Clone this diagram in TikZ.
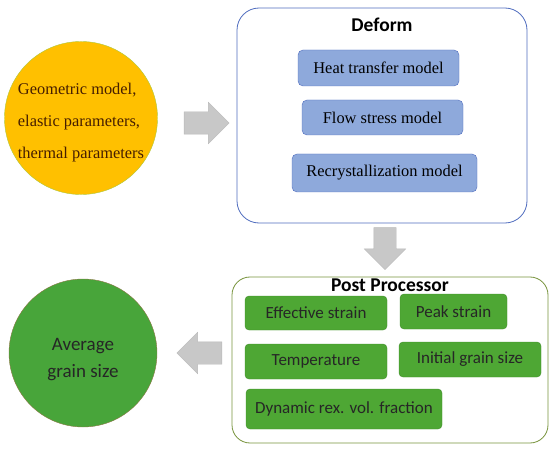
\documentclass[tikz,border=0pt]{standalone}
\usepackage{fontspec}
\setmainfont{Liberation Serif}
\newfontfamily\calibri{Carlito}
\usetikzlibrary{positioning,shapes.arrows}
\definecolor{deformblue}{RGB}{79,108,190}
\definecolor{modelfill}{RGB}{142,169,219}
\definecolor{postolive}{RGB}{119,147,60}
\definecolor{resfill}{RGB}{78,167,52}
\definecolor{resdraw}{RGB}{66,140,44}
\definecolor{inputfill}{RGB}{255,192,0}
\definecolor{inputdraw}{RGB}{172,200,60}
\definecolor{inputtext}{RGB}{70,30,0}
\definecolor{outfill}{RGB}{72,165,58}
\definecolor{outdraw}{RGB}{140,120,70}
\definecolor{arrowgray}{RGB}{200,200,200}
\begin{document}
\begin{tikzpicture}[x=1pt, y=-1pt,
  model/.style={draw=deformblue, fill=modelfill, rounded corners=5pt, inner sep=0pt, font=\fontsize{16.4}{19}\selectfont},
  result/.style={draw=resdraw, fill=resfill, rounded corners=4pt, inner sep=0pt, text=black!85, font=\calibri\fontsize{17}{20}\selectfont},
  title/.style={font=\calibri\bfseries\fontsize{19.5}{22}\selectfont},
  blockarrow/.style={single arrow, draw=gray!55, fill=arrowgray, inner xsep=0pt, inner ysep=11pt, minimum height=45pt, single arrow head extend=9.5pt}]
  \useasboundingbox (0,0) rectangle (550,452);

  % input and output circles
  \node[circle, draw=inputdraw, fill=inputfill, minimum size=148pt, inner sep=0pt, align=left, text=inputtext,
    font=\fontsize{16.4}{19}\selectfont] (input) at (81,118)
    {\rule{0pt}{20pt}Geometric model,\\[13pt] elastic parameters,\\[13pt] thermal parameters};
  \node[circle, draw=outdraw, fill=outfill, minimum size=148pt, inner sep=0pt, align=center, text=black!85,
    font=\calibri\fontsize{19}{27}\selectfont] (output) at (83,353) {\rule{0pt}{25pt}Average\\grain size};

  % Deform
  \node[draw=deformblue, thick, rounded corners=22pt, minimum width=290pt, minimum height=215pt] (deform) at (382,115.5) {};
  \node[title, below=7pt of deform.north] (deftitle) {Deform};
  \node[model, minimum width=161pt, minimum height=36pt] (heat) at (378.5,68) {Heat transfer model};
  \node[model, minimum width=161pt, minimum height=35pt] (flow) at (382.5,117.5) {Flow stress model};
  \node[model, minimum width=185pt, minimum height=38pt] (recryst) at (384.5,173) {Recrystallization model};

  % Post Processor
  \node[draw=postolive, thick, rounded corners=18pt, minimum width=316pt, minimum height=166pt] (post) at (390,360) {};
  \node[title, below=-1pt of post.north] (posttitle) {Post Processor};
  \node[result, minimum width=142pt, minimum height=34pt] (strain) at (316,313) {Effective strain};
  \node[result, minimum width=107pt, minimum height=35pt] (peak) at (453.5,311.5) {Peak strain};
  \node[result, minimum width=142pt, minimum height=35pt] (temp) at (316,361.5) {Temperature};
  \node[result, minimum width=142pt, minimum height=35pt] (grain) at (470,359.5) {Initial grain size};
  \node[result, minimum width=196pt, minimum height=40pt] (drx) at (344,409) {Dynamic rex. vol. fraction};

  % arrows
  \node[blockarrow] (toDeform) at (201,123) {};
  \node[blockarrow, rotate=-90, minimum height=42pt] (toPost) at (385,243) {};
  \node[blockarrow, rotate=180] (toOutput) at (205,353) {};
\end{tikzpicture}
\end{document}
